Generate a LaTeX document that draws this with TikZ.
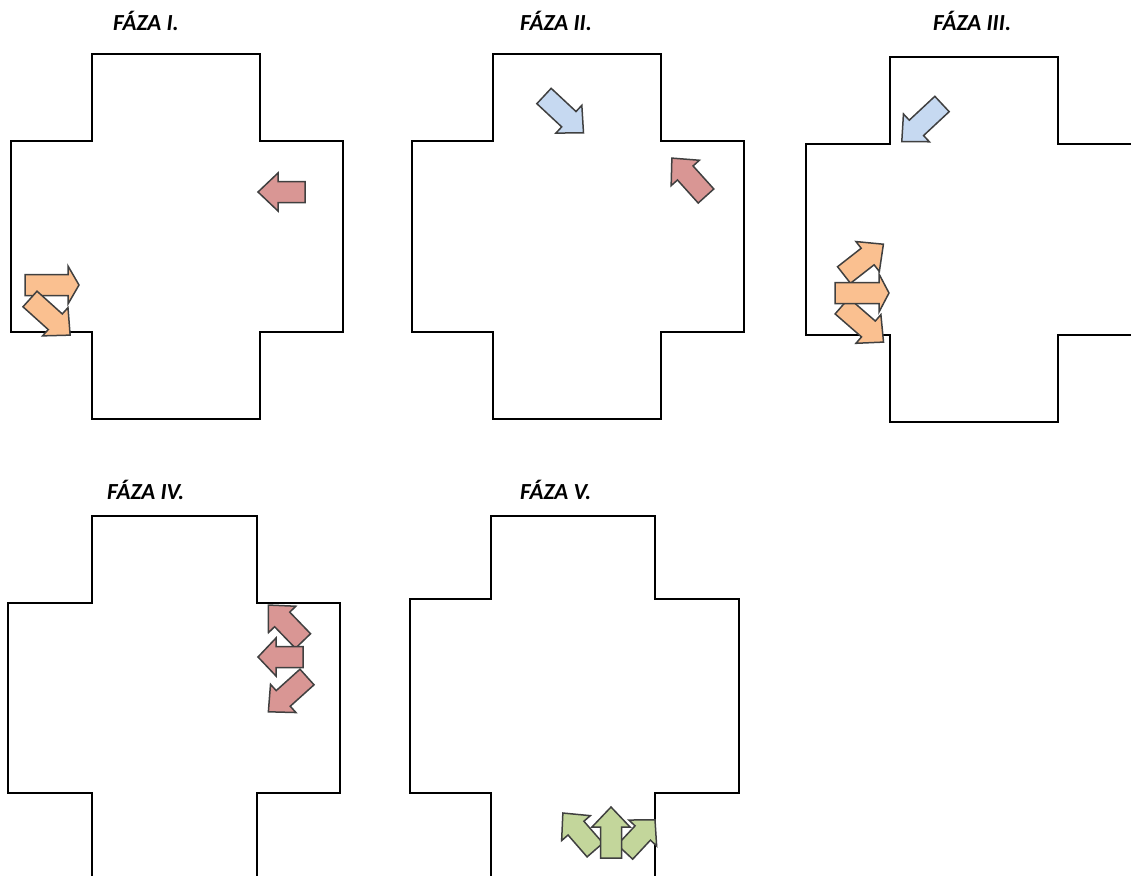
\documentclass[tikz,border=0pt]{standalone}
\usepackage{fontspec}
\setmainfont{Carlito}
\usepackage{tikz}

\definecolor{phaseorange}{HTML}{FAC090}
\definecolor{phasered}{HTML}{D99694}
\definecolor{phaseblue}{HTML}{C6D9F1}
\definecolor{phasegreen}{HTML}{C3D69B}

\tikzset{
    crossline/.style={line width=2.8pt, line join=miter},
    arrowline/.style={draw=black!75, line width=1.5pt, line join=miter},
    phasetitle/.style={anchor=base west, inner sep=0pt, font=\bfseries\itshape\fontsize{23}{23}\selectfont}
}

% left, arm left, arm right, right, top, arm top, arm bottom, bottom
\newcommand{\crossroad}[8]{%
    \draw[crossline] (#2,#5) -- (#3,#5) -- (#3,#6) -- (#4,#6) -- (#4,#7) -- (#3,#7) -- (#3,#8)
        -- (#2,#8) -- (#2,#7) -- (#1,#7) -- (#1,#6) -- (#2,#6) -- cycle;}
% [head length] fill, tail, angle, length
\newcommand{\blockarrow}[5][19]{%
    \filldraw[arrowline, fill=#2, shift={#3}, rotate=#4]
        (0,-10.5) -- ({#5-#1},-10.5) -- ({#5-#1},-19) -- (#5,0) -- ({#5-#1},19) -- ({#5-#1},10.5) -- (0,10.5) -- cycle;}

\begin{document}
\begin{tikzpicture}[x=1pt, y=-1pt]
    \useasboundingbox (0,0) rectangle (1131,875);
    \clip (0,0) rectangle (1131,875);

    \node[phasetitle] (t1) at (113,31) {FÁZA I.};
    \node[phasetitle] (t2) at (520,31) {FÁZA II.};
    \node[phasetitle] (t3) at (933,31) {FÁZA III.};
    \node[phasetitle] (t4) at (107,499) {FÁZA IV.};
    \node[phasetitle] (t5) at (520,499) {FÁZA V.};

    \crossroad{11}{92}{260}{343}{54}{141}{332}{419}
    \crossroad{412}{493}{661}{744}{54}{141}{332}{419}
    \crossroad{806}{890}{1058}{1141}{57}{144}{335}{422}
    \crossroad{8}{92}{257}{340}{516}{603}{793}{885}
    \crossroad{410}{491}{655}{739}{516}{599}{793}{885}

    \blockarrow[20]{phasered}{(305,192)}{180}{47}
    \blockarrow[11]{phaseorange}{(25,285)}{0}{54}
    \blockarrow[20]{phaseorange}{(30,299)}{-42}{54}

    \blockarrow[20]{phaseblue}{(544,96)}{-43}{54}
    \blockarrow[20]{phasered}{(706,196)}{132}{51}

    \blockarrow[20]{phaseblue}{(942,104)}{-137}{55}
    \blockarrow[20]{phaseorange}{(844,275)}{38}{50}
    \blockarrow[20]{phaseorange}{(842,306)}{-41}{55}
    \blockarrow[10]{phaseorange}{(835,293)}{0}{54}

    \blockarrow[20]{phasered}{(303,641)}{134}{50}
    \blockarrow[20]{phasered}{(307,677)}{-138}{52}
    \blockarrow[18]{phasered}{(303,657)}{180}{45}

    \blockarrow[20]{phasegreen}{(595,850)}{131}{49}
    \blockarrow[18]{phasegreen}{(625,852)}{47}{44}
    \blockarrow[20]{phasegreen}{(611,858)}{90}{51}
\end{tikzpicture}
\end{document}
